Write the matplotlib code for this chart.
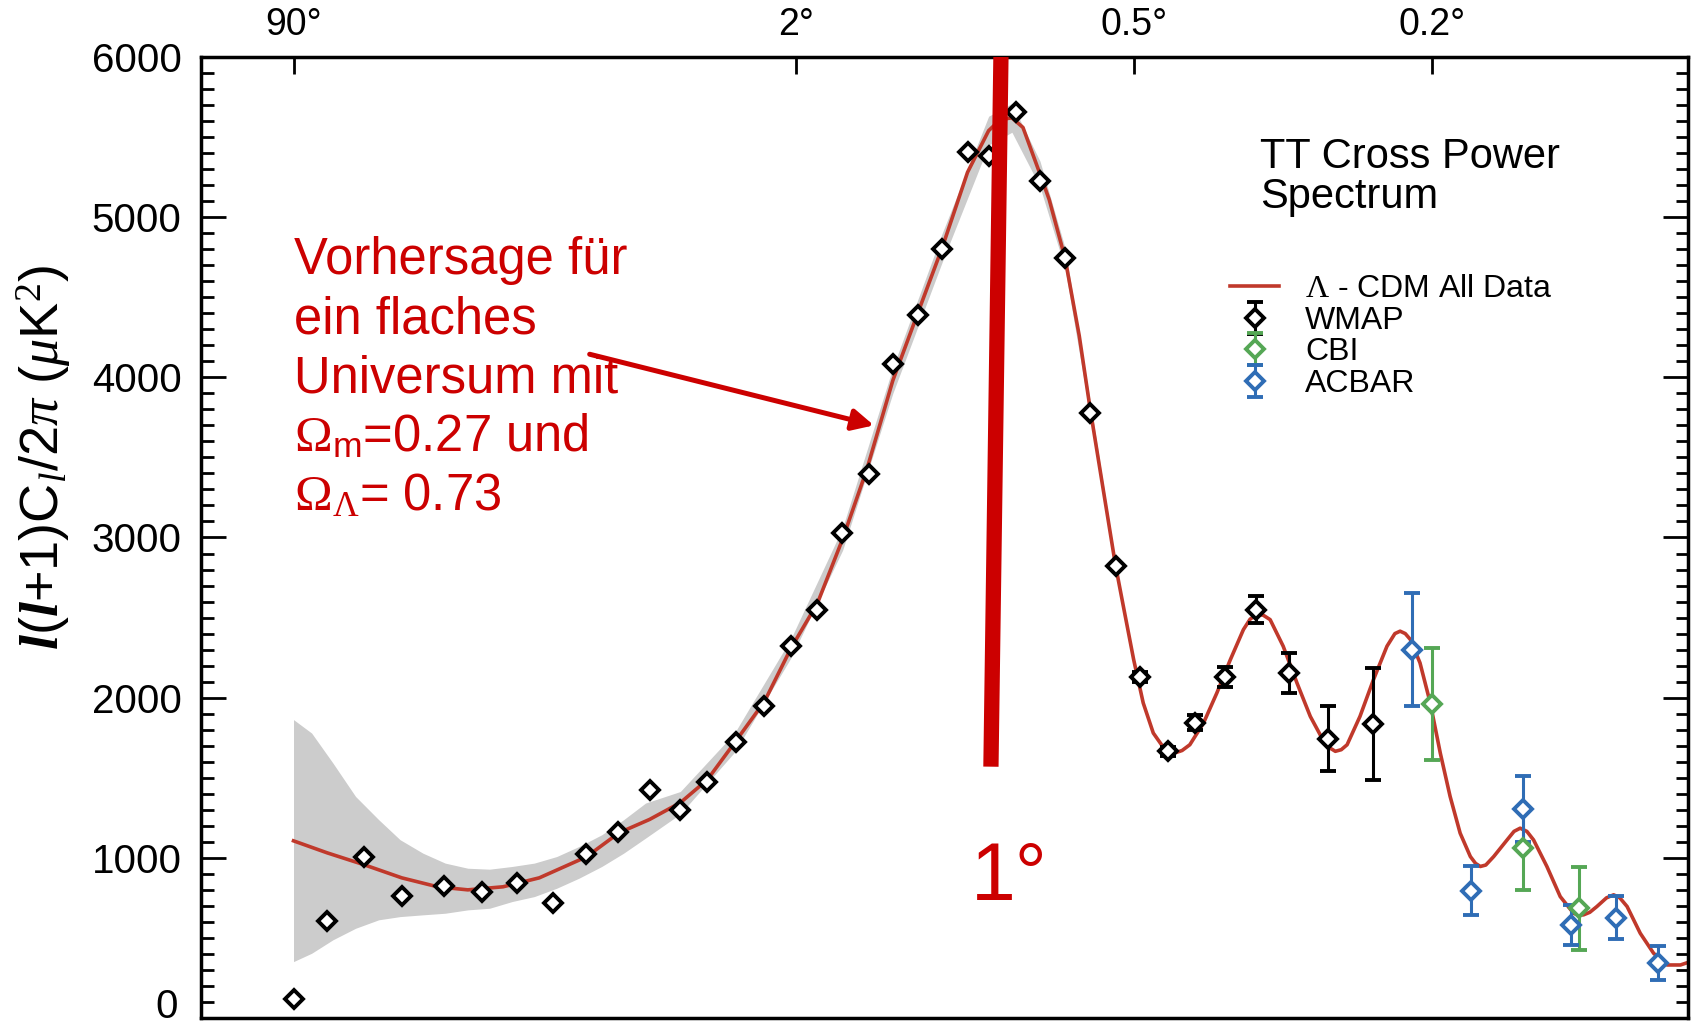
import numpy as np
import matplotlib
matplotlib.use("Agg")
import matplotlib.pyplot as plt
import matplotlib.transforms as mtransforms
from matplotlib.ticker import MultipleLocator, NullLocator, FuncFormatter

plt.rcParams['font.family'] = ['Liberation Sans', 'DejaVu Sans']
plt.rcParams['mathtext.fontset'] = 'custom'
plt.rcParams['mathtext.rm'] = 'Liberation Serif'
plt.rcParams['mathtext.it'] = 'Liberation Serif:italic'
plt.rcParams['mathtext.bf'] = 'Liberation Serif:italic:bold'
plt.rcParams['mathtext.sf'] = 'Liberation Sans'

# Lambda-CDM model curve
model_l = [2, 3, 4.5, 6.5, 9, 11.6, 15.3, 20, 27.6, 34,
           41, 49, 57, 66, 77, 88, 100, 112.5, 125.5, 141,
           157, 174, 193, 210, 220, 230, 240, 256, 265, 281,
           296, 308, 337, 346, 359, 371, 384, 395, 402, 409,
           415, 423, 434, 454, 474, 495, 516, 527, 538, 549,
           561, 584, 609, 634, 660, 670, 683, 695, 707, 734,
           763, 793, 811, 823, 835, 847, 870, 895, 920, 945,
           971, 998, 1012, 1025, 1040, 1062, 1100, 1120, 1138, 1158,
           1178, 1219, 1261, 1304, 1320, 1337, 1358, 1382, 1415, 1440,
           1462, 1488, 1536, 1586, 1637, 1690, 1730]
model_dl = [1106, 1031, 956, 875, 819, 800, 819, 875, 1006, 1156,
            1240, 1344, 1488, 1719, 1975, 2310, 2590, 2990, 3420, 3980,
            4400, 4810, 5280, 5540, 5610, 5620, 5560, 5270, 5110, 4745,
            4260, 3800, 2825, 2580, 2237, 1967, 1779, 1705, 1679, 1663,
            1658, 1670, 1706, 1842, 2029, 2237, 2425, 2490, 2519, 2515,
            2487, 2321, 2092, 1883, 1727, 1690, 1665, 1675, 1706, 1883,
            2112, 2321, 2400, 2415, 2400, 2363, 2217, 1967, 1654, 1383,
            1154, 1008, 965, 946, 955, 1008, 1112, 1165, 1185, 1165,
            1112, 946, 758, 654, 642, 644, 660, 696, 750, 769,
            750, 696, 529, 404, 331, 331, 352]

# grey uncertainty band around the model
band_l = [2, 2.5, 3.2, 4.1, 5.2, 6.4, 7.9, 9.6, 11.6, 13.8, 16.4, 19.3,
          22.6, 26.3, 30.5, 35, 40, 49, 66, 88, 112.5, 141, 174, 210,
          230, 256, 281, 308, 337]
band_lo = [352, 404, 488, 560, 613, 633, 644, 654, 675, 685, 727, 758,
           810, 873, 946, 1029, 1123, 1274, 1660, 2250, 2920, 3900, 4720, 5450,
           5530, 5190, 4680, 3750, 2800]
band_hi = [1863, 1779, 1592, 1383, 1238, 1113, 1029, 967, 935, 929, 946, 967,
           1008, 1071, 1144, 1238, 1342, 1414, 1780, 2370, 3060, 4060, 4900, 5630,
           5710, 5350, 4810, 3850, 2850]

# WMAP
wmap_l = [2, 3, 4.5, 6.5, 9.5, 13, 17, 22, 27.6, 33.7, 41, 49, 57, 66.4, 77,
          88, 100, 112, 127, 141, 157, 174, 193, 210.5, 234, 256, 281, 308,
          337, 367, 403, 442, 486, 536, 595, 669, 763]
wmap_dl = [119, 606, 1006, 762, 825, 788, 844, 719, 1025, 1163, 1425, 1300, 1475,
           1725, 1946, 2321, 2550, 3029, 3394, 4081, 4388, 4800, 5408, 5379,
           5658, 5227, 4745, 3779, 2825, 2129, 1665, 1842, 2129, 2550, 2154,
           1744, 1835]
wmap_err = [0, 0, 0, 0, 0, 0, 0, 0, 0, 0, 0, 0, 0, 0, 0, 0, 0, 0, 0, 0, 0, 0, 0,
            0, 0, 0, 0, 0, 0, 30, 30, 47, 63, 83, 127, 203, 349]

# CBI
cbi_l = [899, 1145, 1323]
cbi_dl = [1960, 1060, 685]
cbi_err = [351, 260, 260]

# ACBAR
acbar_l = [852, 1000, 1145, 1296, 1449, 1603]
acbar_dl = [2300, 794, 1304, 581, 627, 342]
acbar_err = [355, 153, 204, 123, 133, 105]

top_tick_l = [2, 90, 360, 900]
top_tick_labels = ['90°', '2°', '0.5°', '0.2°']

red = '#cc0000'
model_red = '#c0392b'


def fwd(x):
    x = np.asarray(x, dtype=float)
    return np.sign(x) * np.abs(x) ** 0.25


def inv(u):
    u = np.asarray(u, dtype=float)
    return np.sign(u) * np.abs(u) ** 4


fig = plt.figure(figsize=(16.92, 10.23), dpi=100)
ax = fig.add_axes([0.1188, 0.0049, 0.8788, 0.9394])
ax.set_xscale('function', functions=(fwd, inv))
ax.set_xlim(0.5, 1720)
ax.set_ylim(0, 6000)

ax.fill_between(band_l, band_lo, band_hi, color='#cccccc', lw=0, zorder=1)
model_line, = ax.plot(model_l, model_dl, color=model_red, lw=2.6, zorder=2)

mk = dict(fmt='D', ms=9, mfc='white', mew=2.8, capsize=5.5, elinewidth=2.2,
          capthick=2.2, zorder=4)
wmap = ax.errorbar(wmap_l, wmap_dl, yerr=wmap_err, color='black', mec='black', **mk)
cbi = ax.errorbar(cbi_l, cbi_dl, yerr=cbi_err, color='#55a755', mec='#55a755', **mk)
acbar = ax.errorbar(acbar_l, acbar_dl, yerr=acbar_err, color='#2f6db5', mec='#2f6db5', **mk)

# axes styling
for s in ax.spines.values():
    s.set_linewidth(2.5)
ax.yaxis.set_major_locator(MultipleLocator(1000))
ax.yaxis.set_minor_locator(MultipleLocator(100))
# the "0" label is drawn separately, a little above the bottom edge
ax.yaxis.set_major_formatter(FuncFormatter(lambda v, p: '' if v == 0 else f'{v:.0f}'))
ax.tick_params(axis='y', which='both', direction='in', left=True, right=True,
               labelleft=True, labelright=False, width=2)
ax.tick_params(axis='y', which='major', length=18, labelsize=29, pad=14)
ax.tick_params(axis='y', which='minor', length=9)
ax.set_xticks(top_tick_l)
ax.set_xticklabels(top_tick_labels)
ax.xaxis.set_minor_locator(NullLocator())
ax.tick_params(axis='x', which='major', direction='in', top=True, bottom=False,
               labeltop=True, labelbottom=False, length=12, width=2,
               labelsize=27, pad=10)
trans = mtransforms.blended_transform_factory(ax.transAxes, ax.transData)
ax.text(-0.0155, 70, '0', transform=trans, fontsize=29, ha='right', va='center')

ax.set_ylabel(r'$\mathbf{l}$($\mathbf{l}$+1)C$_{\mathit{l}}$/2$\pi$ ($\mu$K$^2$)',
              fontsize=39)
ax.yaxis.set_label_coords(-0.086, 0.583)

# title and legend
ax.text(0.712, 0.917, 'TT Cross Power\nSpectrum', transform=ax.transAxes,
        fontsize=30, va='top', ha='left', linespacing=1.0)
ax.legend([model_line, wmap, cbi, acbar],
          [r'$\Lambda$ - CDM All Data', 'WMAP', 'CBI', 'ACBAR'],
          loc='upper left', bbox_to_anchor=(0.692, 0.774), frameon=False,
          fontsize=23, handlelength=1.55, handletextpad=0.8, labelspacing=0.05,
          borderpad=0, borderaxespad=0)

# annotation
ax.text(2, 4880, 'Vorhersage für\nein flaches\nUniversum mit\n'
        r'$\Omega_{\mathsf{m}}$=0.27 und' '\n' r'$\Omega_{\Lambda}$= 0.73',
        color=red, fontsize=36.5, va='top', ha='left', linespacing=1.26, zorder=6)
ax.annotate('', xy=(129.7, 3700), xytext=(28.2, 4144),
            arrowprops=dict(arrowstyle='-|>', color=red, lw=3.6,
                            mutation_scale=32, shrinkA=0, shrinkB=0), zorder=6)

# the 1 degree marker
ax.plot([220.4, 211.9], [6000, 1569], color=red, lw=11, solid_capstyle='butt',
        zorder=8)
ax.text(195.7, 737, '1°', color=red, fontsize=58, ha='left', va='baseline',
        zorder=8)

fig.savefig('out.png', dpi=100)
